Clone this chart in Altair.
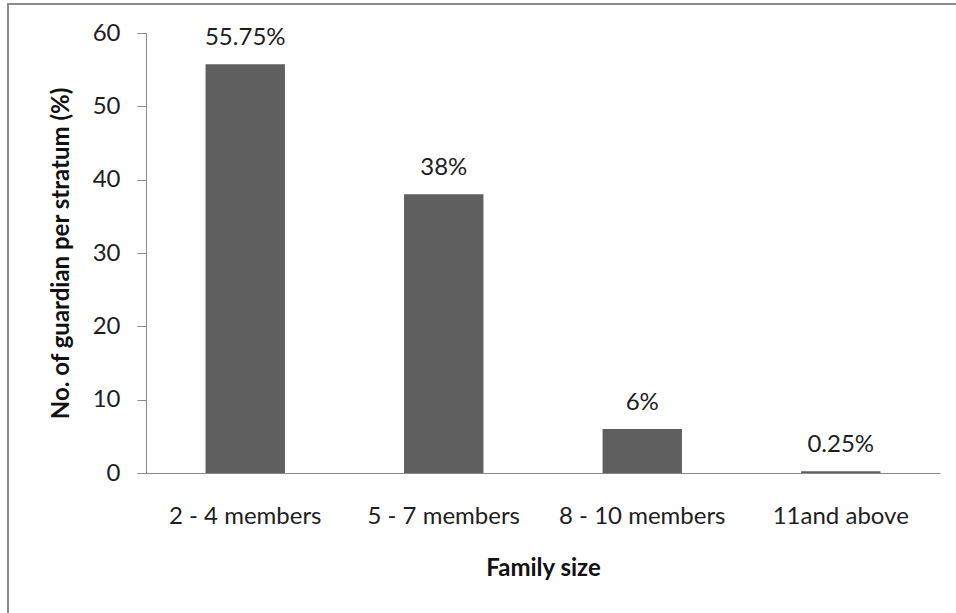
import altair as alt
import pandas as pd

categories = ["2 - 4 members", "5 - 7 members", "8 - 10 members", "11and above"]
values = [55.75, 38, 6, 0.25]
labels = ["55.75%", "38%", "6%", "0.25%"]

df = pd.DataFrame({"cat": categories, "val": values, "lab": labels})

FONT = "Lato"
AXIS_GRAY = "#8a8a8a"
FS = 24

base = alt.Chart(df)

bars = base.mark_bar(color="#5f5f5f").encode(
    x=alt.X("cat:N", sort=categories,
            scale=alt.Scale(paddingInner=0.6, paddingOuter=0.3),
            axis=alt.Axis(title="Family size", labelAngle=0, ticks=False,
                          labelPadding=31, titlePadding=28,
                          labelFontSize=FS, titleFontSize=FS, titleFontWeight="bold",
                          labelColor="#1e1e1e", titleColor="#111",
                          domainColor=AXIS_GRAY, labelFont=FONT, titleFont=FONT)),
    y=alt.Y("val:Q", scale=alt.Scale(domain=[0, 60]),
            axis=alt.Axis(title="No. of guardian per stratum (%)", values=[0, 10, 20, 30, 40, 50, 60],
                          grid=False, tickSize=9, labelPadding=17,
                          labelFontSize=FS, titleFontSize=FS, titleFontWeight="bold",
                          labelColor="#1e1e1e", titleColor="#111",
                          domainColor=AXIS_GRAY, tickColor=AXIS_GRAY,
                          labelFont=FONT, titleFont=FONT, titleX=-73)),
)

text = base.mark_text(baseline="bottom", dy=-14, fontSize=FS, font=FONT, color="#1e1e1e").encode(
    x=alt.X("cat:N", sort=categories),
    y="val:Q",
    text="lab:N",
)

border = alt.Chart(pd.DataFrame({"a": [0]})).mark_rect(
    fill=None, stroke="#8c8c8c", strokeWidth=2
).encode(
    x=alt.value(-138), x2=alt.value(900), y=alt.value(-29), y2=alt.value(700)
)

chart = alt.layer(bars, text, border).properties(
    width=794, height=440,
    padding={"left": 146, "top": 33, "right": 16, "bottom": 140},
    autosize=alt.AutoSizeParams(type="none"),
    background="white",
).configure_view(stroke=None)

chart.save("out.html", embed_options={"renderer": "svg", "actions": False})
